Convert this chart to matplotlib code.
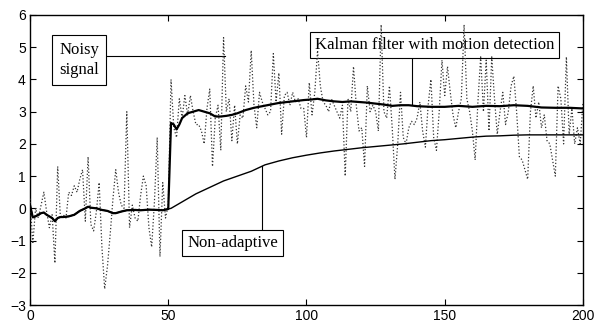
import numpy as np
import matplotlib.pyplot as plt

# noisy measurement, one sample per step 0..200
noisy = [0.3, -1.1, 0.0, -0.3, 0.1, 0.5, -0.1, -0.6, -0.2, -1.7,
         1.3, -0.3, -0.2, -0.3, 0.5, 0.4, 0.7, 0.5, 0.9, 1.2,
         -0.4, 1.6, -0.5, -0.7, -0.1, 0.8, -1.2, -2.5, -1.8, -0.8,
         0.3, 1.2, 0.5, 0.1, 0.0, 3.0, -0.6, 0.1, -0.3, -0.4,
         0.4, 1.0, 0.7, -0.6, -1.2, 0.2, 2.2, -1.5, 0.8, -0.3,
         0.1, 4.0, 2.5, 2.2, 3.4, 2.8, 3.5, 2.9, 3.5, 3.0,
         2.6, 2.6, 2.4, 2.0, 3.1, 3.7, 1.3, 2.8, 3.2, 1.8,
         5.3, 3.0, 3.4, 2.1, 3.2, 2.0, 2.9, 2.8, 3.8, 3.3,
         4.9, 3.2, 2.5, 3.6, 3.3, 3.1, 2.9, 3.0, 4.8, 3.3,
         4.2, 2.3, 3.5, 3.6, 3.2, 3.6, 3.3, 3.4, 3.1, 3.1,
         2.2, 3.9, 2.9, 3.6, 4.9, 3.8, 3.3, 3.2, 3.0, 3.4,
         3.2, 3.0, 2.8, 3.2, 1.0, 3.4, 3.0, 4.4, 3.2, 2.4,
         2.5, 1.3, 3.8, 3.0, 3.2, 3.0, 2.4, 5.7, 3.0, 2.8,
         3.8, 2.5, 0.9, 2.0, 3.6, 2.2, 2.0, 2.5, 2.7, 2.6,
         2.8, 3.3, 2.4, 1.9, 3.2, 4.0, 2.2, 1.8, 3.0, 4.6,
         3.5, 4.4, 3.6, 2.9, 2.5, 3.0, 3.4, 5.7, 3.4, 3.0,
         2.4, 1.5, 3.3, 4.7, 3.0, 4.6, 2.4, 4.7, 3.4, 2.3,
         3.0, 3.6, 2.6, 3.0, 3.8, 4.1, 3.0, 1.6, 1.5, 1.2,
         0.9, 3.0, 3.8, 2.8, 3.3, 2.5, 2.9, 2.1, 2.0, 1.5,
         1.0, 3.8, 3.4, 2.0, 4.7, 2.3, 3.1, 2.0, 2.5, 2.0,
         3.3]

# Kalman filter with motion detection
kalman_x = [0, 1, 2, 3, 4, 5, 6, 7, 8, 9, 10, 11, 12, 14, 16, 18, 20, 21, 22, 24,
            26, 28, 30, 31, 33, 35, 38, 40, 43, 46, 48, 50, 51, 52, 53, 54, 55, 57, 59, 61,
            63, 65, 67, 69, 71, 73, 75, 78, 81, 84, 87, 90, 93, 96, 99, 102, 104, 107, 110, 113,
            116, 119, 122, 125, 128, 131, 134, 137, 140, 145, 150, 155, 160, 165, 170, 175, 180, 185, 190, 195, 200]
kalman_y = [0.1, -0.28, -0.25, -0.2, -0.15, -0.13, -0.2, -0.25, -0.3, -0.4, -0.3, -0.27, -0.27, -0.25, -0.2, -0.08, 0.0, 0.05, 0.02, 0.0,
            -0.05, -0.08, -0.15, -0.15, -0.1, -0.06, -0.05, -0.06, -0.04, -0.05, -0.06, -0.02, 2.65, 2.6, 2.45, 2.6, 2.8, 2.95, 3.0, 3.05,
            3.0, 2.95, 2.85, 2.85, 2.87, 2.9, 2.95, 3.05, 3.12, 3.17, 3.22, 3.27, 3.3, 3.33, 3.36, 3.38, 3.4, 3.35, 3.32, 3.3,
            3.32, 3.3, 3.28, 3.25, 3.22, 3.18, 3.2, 3.2, 3.17, 3.15, 3.15, 3.18, 3.15, 3.18, 3.17, 3.2, 3.18, 3.13, 3.12, 3.12, 3.1]

# non-adaptive filter (same as kalman before the step)
nonad_x = [0, 1, 2, 3, 4, 5, 6, 7, 8, 9, 10, 11, 12, 14, 16, 18, 20, 21, 22, 24,
           26, 28, 30, 31, 33, 35, 38, 40, 43, 46, 48, 50, 51, 55, 60, 65, 70, 75, 80, 85,
           90, 95, 100, 105, 110, 115, 120, 125, 130, 135, 140, 145, 150, 155, 160, 165, 170, 175, 180, 185,
           190, 195, 200]
nonad_y = [0.1, -0.28, -0.25, -0.2, -0.15, -0.13, -0.2, -0.25, -0.3, -0.4, -0.3, -0.27, -0.27, -0.25, -0.2, -0.08, 0.0, 0.05, 0.02, 0.0,
           -0.05, -0.08, -0.15, -0.15, -0.1, -0.06, -0.05, -0.06, -0.04, -0.05, -0.06, -0.02, 0.0, 0.2, 0.45, 0.65, 0.85, 1.0, 1.15, 1.35,
           1.47, 1.57, 1.65, 1.72, 1.78, 1.83, 1.88, 1.92, 1.96, 2.0, 2.05, 2.1, 2.13, 2.17, 2.21, 2.24, 2.25, 2.27, 2.28, 2.28,
           2.28, 2.28, 2.28]

plt.rcParams['font.family'] = ['Liberation Sans', 'DejaVu Sans']

fig = plt.figure(figsize=(5.97, 3.26), dpi=100)
ax = fig.add_axes([0.0503, 0.0644, 0.9262, 0.8896])

ax.plot(np.arange(len(noisy)), noisy, color='0.2', ls=':', lw=0.9, zorder=3)
ax.plot(nonad_x, nonad_y, color='k', lw=1.0, zorder=4)
ax.plot(kalman_x, kalman_y, color='k', lw=1.6, zorder=5)

ax.set_xlim(0, 200)
ax.set_ylim(-3, 6)
ax.set_xticks([0, 50, 100, 150, 200])
ax.set_yticks(range(-3, 7))
ax.tick_params(direction='in', top=True, right=True, labelsize=10, length=4, width=0.8, pad=3)
for s in ax.spines.values():
    s.set_linewidth(1.0)

box = dict(boxstyle='square,pad=0.3', fc='white', ec='k', lw=0.8)
tfont = dict(family=['Liberation Serif', 'DejaVu Serif'], size=12)

# leader lines (run into the boxes, which cover their ends)
ax.plot([17.7, 70.5], [4.73, 4.73], color='k', lw=0.8, zorder=1.5)
ax.plot([138, 138], [5.07, 3.2], color='k', lw=0.8, zorder=1.5)
ax.plot([83.8, 83.8], [-1.07, 1.32], color='k', lw=0.8, zorder=1.5)

ax.text(17.7, 4.6, 'Noisy\nsignal', ha='center', va='center', multialignment='left',
        linespacing=1.35, bbox=dict(boxstyle='square,pad=0.4', fc='white', ec='k', lw=0.8),
        zorder=2, **tfont)
ax.text(146.4, 5.07, 'Kalman filter with motion detection', ha='center', va='center',
        bbox=box, zorder=2, **tfont)
ax.text(73.2, -1.07, 'Non-adaptive', ha='center', va='center', bbox=box, zorder=2, **tfont)

fig.savefig('out.png', dpi=100)
